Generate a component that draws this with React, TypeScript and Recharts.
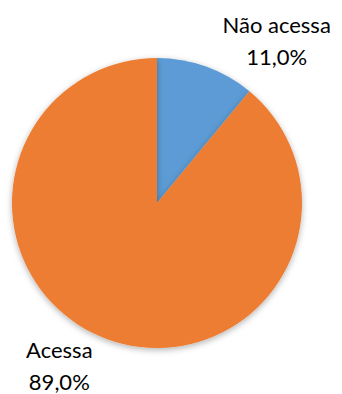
import { Cell, Pie, PieChart } from "recharts";

const categories = ["Não acessa", "Acessa"];
const values = [11.0, 89.0];
const colors = ["#5B9BD5", "#ED7D31"];

// nudges from the polar anchor to the first baseline of each label block
const labelNudge = [
  { dx: 57, dy: 4 },
  { dx: -35, dy: -19 },
];

const data = categories.map((name, i) => ({ name, value: values[i] }));

const RAD = Math.PI / 180;

function renderLabel(props: any) {
  const { cx, cy, midAngle, outerRadius, index, name, value } = props;
  const r = outerRadius + 40;
  const x = cx + r * Math.cos(-midAngle * RAD) + labelNudge[index].dx;
  const y = cy + r * Math.sin(-midAngle * RAD) + labelNudge[index].dy;
  return (
    <text
      x={x}
      y={y}
      textAnchor="middle"
      fill="#000"
      fontSize={22}
      fontFamily="Lato, sans-serif"
    >
      <tspan x={x} dy={0}>
        {name}
      </tspan>
      <tspan x={x} dy={32}>
        {value.toFixed(1).replace(".", ",")}%
      </tspan>
    </text>
  );
}

export default function App() {
  return (
    <div style={{ position: "absolute", left: 0, top: 0, background: "#fff" }}>
      <PieChart
        width={342}
        height={394}
        margin={{ top: 0, right: 0, bottom: 0, left: 0 }}
      >
        <defs>
          <filter id="pieShadow" x="-20%" y="-20%" width="140%" height="140%">
            <feDropShadow dx="0" dy="2" stdDeviation="3" floodColor="#000" floodOpacity="0.3" />
          </filter>
        </defs>
        <Pie
          data={data}
          dataKey="value"
          nameKey="name"
          cx={157}
          cy={203}
          outerRadius={145}
          startAngle={90}
          endAngle={-270}
          stroke="none"
          labelLine={false}
          label={renderLabel}
          isAnimationActive={false}
          style={{ filter: "url(#pieShadow)" }}
        >
          {data.map((d, i) => (
            <Cell key={d.name} fill={colors[i]} />
          ))}
        </Pie>
      </PieChart>
    </div>
  );
}
